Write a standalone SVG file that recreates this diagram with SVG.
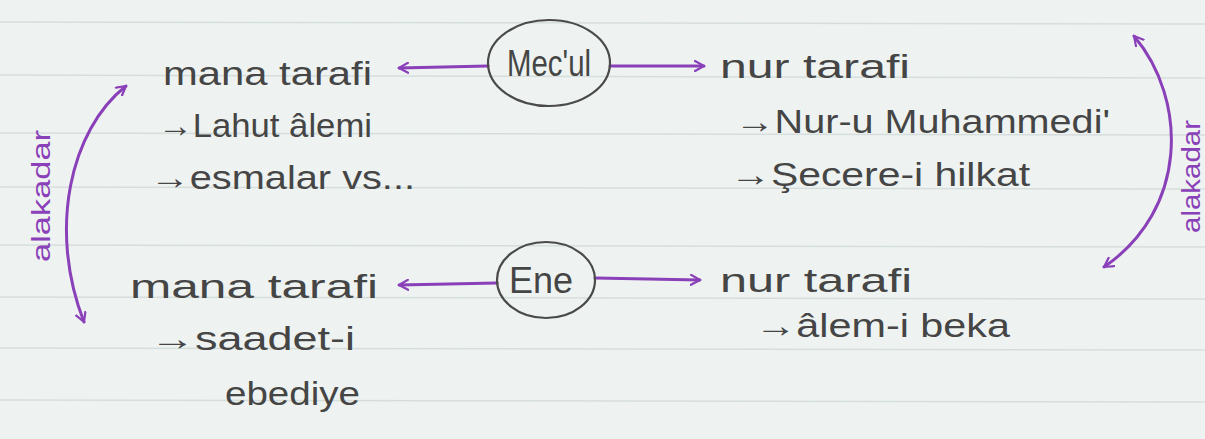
<svg xmlns="http://www.w3.org/2000/svg" width="1205" height="439" viewBox="0 0 1205 439">
<defs>
<style>
.t{font-family:"Liberation Sans","DejaVu Sans",sans-serif;font-size:34px;fill:#454545}
.n{font-family:"Liberation Sans","DejaVu Sans",sans-serif;font-size:36px;fill:#454545}
.p{font-family:"Liberation Sans","DejaVu Sans",sans-serif;font-size:26px;fill:#8a40b8}
.e{fill:none;stroke:#4a4a4a;stroke-width:2.2}
.c{fill:none;stroke:#8a40b8;stroke-width:3;stroke-linecap:round}
.rule{stroke:#d6dedd;stroke-width:1.5}
</style>
<marker id="ah" viewBox="0 0 12 12" refX="10" refY="6" markerWidth="12" markerHeight="12" markerUnits="userSpaceOnUse" orient="auto-start-reverse">
<polyline points="1,1 10,6 1,11" fill="none" stroke="#8a40b8" stroke-width="2.2" stroke-linecap="round" stroke-linejoin="round"/>
</marker>
</defs>
<rect width="1205" height="439" fill="#eef3f1"/>
<g id="paper-lines">
<line class="rule" x1="0" y1="22" x2="1205" y2="24"/>
<line class="rule" x1="0" y1="75" x2="1205" y2="78"/>
<line class="rule" x1="0" y1="133" x2="1205" y2="135"/>
<line class="rule" x1="0" y1="187" x2="1205" y2="189"/>
<line class="rule" x1="0" y1="245" x2="1205" y2="247"/>
<line class="rule" x1="0" y1="297" x2="1205" y2="299"/>
<line class="rule" x1="0" y1="348" x2="1205" y2="350"/>
<line class="rule" x1="0" y1="400" x2="1205" y2="402"/>
</g>
<g id="connectors">
<path class="c" d="M488 66 L399 68" marker-end="url(#ah)"/>
<path class="c" d="M610 66 L704 66" marker-end="url(#ah)"/>
<path class="c" d="M497 283 L399 285" marker-end="url(#ah)"/>
<path class="c" d="M595 278 L700 280" marker-end="url(#ah)"/>
<path class="c" d="M126 86 C 70 130, 48 230, 84 322" marker-start="url(#ah)" marker-end="url(#ah)"/>
<path class="c" d="M1134 36 C 1188 100, 1188 210, 1104 267" marker-start="url(#ah)" marker-end="url(#ah)"/>
</g>
<g id="node-mecul">
<ellipse class="e" cx="549" cy="63" rx="61" ry="43"/>
<text class="n" x="507" y="76" textLength="84" lengthAdjust="spacingAndGlyphs">Mec'ul</text>
</g>
<g id="node-ene">
<ellipse class="e" cx="546" cy="280" rx="49" ry="38"/>
<text class="n" x="541" y="293" text-anchor="middle">Ene</text>
</g>
<g id="node-mana-top">
<text class="t" x="163" y="85" textLength="209" lengthAdjust="spacingAndGlyphs">mana tarafi</text>
<text class="t" x="158" y="137" textLength="214" lengthAdjust="spacingAndGlyphs">→Lahut âlemi</text>
<text class="t" x="150" y="189" textLength="265" lengthAdjust="spacingAndGlyphs">→esmalar vs...</text>
</g>
<g id="node-nur-top">
<text class="t" x="720" y="78" textLength="190" lengthAdjust="spacingAndGlyphs">nur tarafi</text>
<text class="t" x="735" y="133" textLength="375" lengthAdjust="spacingAndGlyphs">→Nur-u Muhammedi'</text>
<text class="t" x="730" y="186" textLength="300" lengthAdjust="spacingAndGlyphs">→Şecere-i hilkat</text>
</g>
<g id="node-mana-bottom">
<text class="t" x="130" y="298" textLength="248" lengthAdjust="spacingAndGlyphs">mana tarafi</text>
<text class="t" x="150" y="350" textLength="205" lengthAdjust="spacingAndGlyphs">→saadet-i</text>
<text class="t" x="225" y="405" textLength="135" lengthAdjust="spacingAndGlyphs">ebediye</text>
</g>
<g id="node-nur-bottom">
<text class="t" x="720" y="292" textLength="192" lengthAdjust="spacingAndGlyphs">nur tarafi</text>
<text class="t" x="755" y="337" textLength="255" lengthAdjust="spacingAndGlyphs">→âlem-i beka</text>
</g>
<g id="label-left">
<text class="p" transform="translate(50 262) rotate(-90)" textLength="132" lengthAdjust="spacingAndGlyphs">alakadar</text>
</g>
<g id="label-right">
<text class="p" transform="translate(1200 233) rotate(-90)" textLength="113" lengthAdjust="spacingAndGlyphs">alakadar</text>
</g>
</svg>
